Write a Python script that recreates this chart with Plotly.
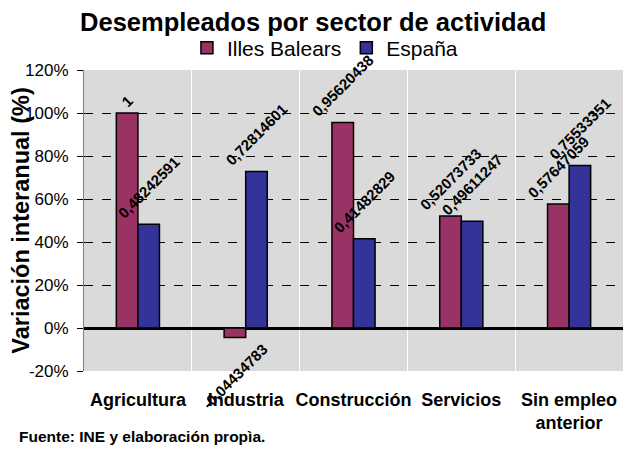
import plotly.graph_objects as go

categories = ["Agricultura", "Industria", "Construcción", "Servicios", "Sin empleo<br>anterior"]
illes_balears = [1.0, -0.04434783, 0.95620438, 0.52073733, 0.57647059]
espana = [0.48242591, 0.72814601, 0.41482829, 0.49611247, 0.75533351]
y_ticks = [-0.2, 0.0, 0.2, 0.4, 0.6, 0.8, 1.0, 1.2]
y_tick_labels = ["-20%", "0%", "20%", "40%", "60%", "80%", "100%", "120%"]

def fmt(v):
    s = repr(v)
    if s.endswith(".0"):
        s = s[:-2]
    return s.replace(".", ",")

x_idx = list(range(len(categories)))
font = "Liberation Sans, Arial, sans-serif"

fig = go.Figure()
fig.add_trace(go.Bar(
    x=x_idx, y=illes_balears, name="Illes Balears",
    marker=dict(color="#993366", line=dict(color="black", width=1.5)),
    text=[fmt(v) for v in illes_balears], textposition="outside", textangle=-45,
    constraintext="none", cliponaxis=False,
    textfont=dict(family=font, size=15, color="black", weight="bold"),
))
fig.add_trace(go.Bar(
    x=x_idx, y=espana, name="España",
    marker=dict(color="#333399", line=dict(color="black", width=1.5)),
    text=[fmt(v) for v in espana], textposition="outside", textangle=-45,
    constraintext="none", cliponaxis=False,
    textfont=dict(family=font, size=15, color="black", weight="bold"),
))

fig.update_layout(
    width=628, height=449,
    margin=dict(l=76, r=13, t=62, b=86, autoexpand=False),
    paper_bgcolor="white", plot_bgcolor="#dadada",
    barmode="group", bargap=0.6, bargroupgap=0,
    font=dict(family=font, color="black"),
    title=dict(text="<b>Desempleados por sector de actividad</b>", x=0.486, xanchor="center",
               y=0.969, yanchor="middle", font=dict(size=25.5, family=font, color="black")),
    legend=dict(orientation="h", xref="paper", yref="paper", x=0.447, xanchor="center",
                y=1.073, yanchor="middle", font=dict(size=21, family=font), bgcolor="rgba(0,0,0,0)",
                itemwidth=30, tracegroupgap=0),
    showlegend=True,
    xaxis=dict(
        range=[-0.5, len(categories) - 0.5], automargin=False,
        tickmode="array", tickvals=x_idx, ticktext=["<b>%s</b>" % c for c in categories],
        tickfont=dict(size=18, family=font), showgrid=False,
        ticks="outside", ticklen=12, tickcolor="rgba(0,0,0,0)", showline=False,
        zeroline=False,
        minor=dict(tickmode="array", tickvals=[i + 0.5 for i in x_idx[:-1]], showgrid=True,
                   gridcolor="white", gridwidth=1, ticks=""),
    ),
    yaxis=dict(
        range=[-0.2, 1.2], automargin=False, tickmode="array", tickvals=y_ticks, ticktext=y_tick_labels,
        tickfont=dict(size=17, family=font), showgrid=True, gridcolor="black", griddash="dash",
        gridwidth=1, zeroline=True, zerolinecolor="black", zerolinewidth=3,
        showline=True, linecolor="#808080", linewidth=1, ticks="outside", ticklen=6,
        tickcolor="black", ticklabelstandoff=5,
        title=dict(text="<b>Variación interanual (%)</b>", font=dict(size=23.5, family=font), standoff=0),
    ),
    annotations=[dict(text="<b>Fuente: INE y elaboración propìa.</b>", xref="paper", yref="paper",
                      x=-0.1243, y=-0.216, xanchor="left", yanchor="middle", showarrow=False,
                      font=dict(size=15.5, family=font))],
)

fig.write_html("out.html")
